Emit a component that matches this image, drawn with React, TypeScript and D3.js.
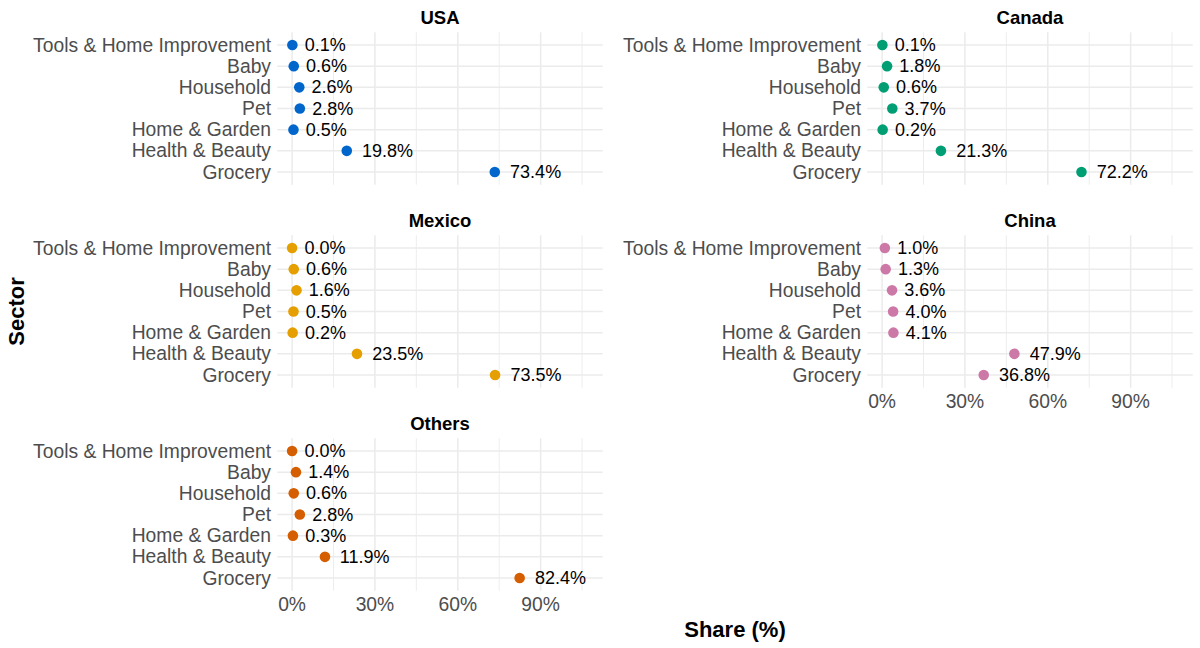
import React from "react";
import * as d3 from "d3";

const sectors = [
  "Tools & Home Improvement",
  "Baby",
  "Household",
  "Pet",
  "Home & Garden",
  "Health & Beauty",
  "Grocery",
];

const regions = ["USA", "Canada", "Mexico", "China", "Others"];

const usaShare = [0.1, 0.6, 2.6, 2.8, 0.5, 19.8, 73.4];
const canadaShare = [0.1, 1.8, 0.6, 3.7, 0.2, 21.3, 72.2];
const mexicoShare = [0.0, 0.6, 1.6, 0.5, 0.2, 23.5, 73.5];
const chinaShare = [1.0, 1.3, 3.6, 4.0, 4.1, 47.9, 36.8];
const othersShare = [0.0, 1.4, 0.6, 2.8, 0.3, 11.9, 82.4];

const regionColors = ["#0066CC", "#009E73", "#E69F00", "#CC79A7", "#D55E00"];

const xTicks = [0, 30, 60, 90];
const xMinorTicks = [15, 45, 75, 105];

const seriesByRegion = [usaShare, canadaShare, mexicoShare, chinaShare, othersShare];

const FONT = "'Liberation Sans', Arial, Helvetica, sans-serif";

const W = 1200;
const H = 648;
const colX0 = [277.3, 867.3];
const panelW = 325.4;
const rowY0 = [32.3, 235.3, 438.3];
const panelH = 152.4;

let ctx: CanvasRenderingContext2D | null = null;
function textWidth(s: string, size: number): number {
  if (!ctx) {
    const c = document.createElement("canvas");
    ctx = c.getContext("2d");
  }
  if (!ctx) return s.length * size * 0.55;
  ctx.font = `${size}px ${FONT}`;
  return ctx.measureText(s).width;
}

export default function App() {
  const maxVal = d3.max(seriesByRegion.flat()) as number;
  const lim = maxVal * 1.3;
  const pad = lim * 0.05;

  const panels = regions.map((region, i) => {
    const col = i % 2;
    const row = Math.floor(i / 2);
    const x0 = colX0[col];
    const y0 = rowY0[row];
    const x = d3.scaleLinear().domain([0 - pad, lim + pad]).range([x0, x0 + panelW]);
    const y = d3.scalePoint<string>().domain(sectors).range([y0, y0 + panelH]).padding(0.6);
    const showX = i === 3 || i === 4;
    const values = seriesByRegion[i];
    return (
      <g key={region}>
        {xMinorTicks.map((t) => (
          <line key={"mn" + t} x1={x(t)} x2={x(t)} y1={y0} y2={y0 + panelH} stroke="#EBEBEB" strokeWidth={0.9} />
        ))}
        {xTicks.map((t) => (
          <line key={"mj" + t} x1={x(t)} x2={x(t)} y1={y0} y2={y0 + panelH} stroke="#EBEBEB" strokeWidth={1.5} />
        ))}
        {sectors.map((s) => (
          <line key={"h" + s} x1={x0} x2={x0 + panelW} y1={y(s)} y2={y(s)} stroke="#EBEBEB" strokeWidth={1.5} />
        ))}
        <text x={x0 + panelW / 2} y={y0 - 14.5} textAnchor="middle" dominantBaseline="central" fontFamily={FONT} fontSize={18.5} fontWeight="bold" fill="#000">
          {region}
        </text>
        {sectors.map((s) => (
          <text key={"yl" + s} x={x0 - 6.3} y={y(s)} textAnchor="end" dominantBaseline="central" fontFamily={FONT} fontSize={19.3} fill="#4D4D4D">
            {s}
          </text>
        ))}
        {showX &&
          xTicks.map((t) => (
            <text key={"xt" + t} x={x(t)} y={y0 + panelH + 14} textAnchor="middle" dominantBaseline="central" fontFamily={FONT} fontSize={19.3} fill="#4D4D4D">
              {t + "%"}
            </text>
          ))}
        {sectors.map((s, k) => (
          <circle key={"p" + s} cx={x(values[k])} cy={y(s)} r={5.3} fill={regionColors[i]} />
        ))}
        {sectors.map((s, k) => {
          const lbl = values[k].toFixed(1) + "%";
          const w = textWidth(lbl, 18);
          return (
            <text key={"v" + s} x={x(values[k]) + 0.3 * w} y={y(s)} textAnchor="start" dominantBaseline="central" fontFamily={FONT} fontSize={18} fill="#000">
              {lbl}
            </text>
          );
        })}
      </g>
    );
  });

  return (
    <svg width={W} height={H} style={{ position: "absolute", left: 0, top: 0, background: "#fff" }}>
      <rect x={0} y={0} width={W} height={H} fill="#fff" />
      {panels}
      <text x={(colX0[0] + colX0[1] + panelW) / 2} y={629} textAnchor="middle" dominantBaseline="central" fontFamily={FONT} fontSize={22} fontWeight="bold" fill="#000">
        Share (%)
      </text>
      <text transform={`translate(16,${(rowY0[0] + rowY0[2] + panelH) / 2}) rotate(-90)`} textAnchor="middle" dominantBaseline="central" fontFamily={FONT} fontSize={22} fontWeight="bold" fill="#000">
        Sector
      </text>
    </svg>
  );
}
